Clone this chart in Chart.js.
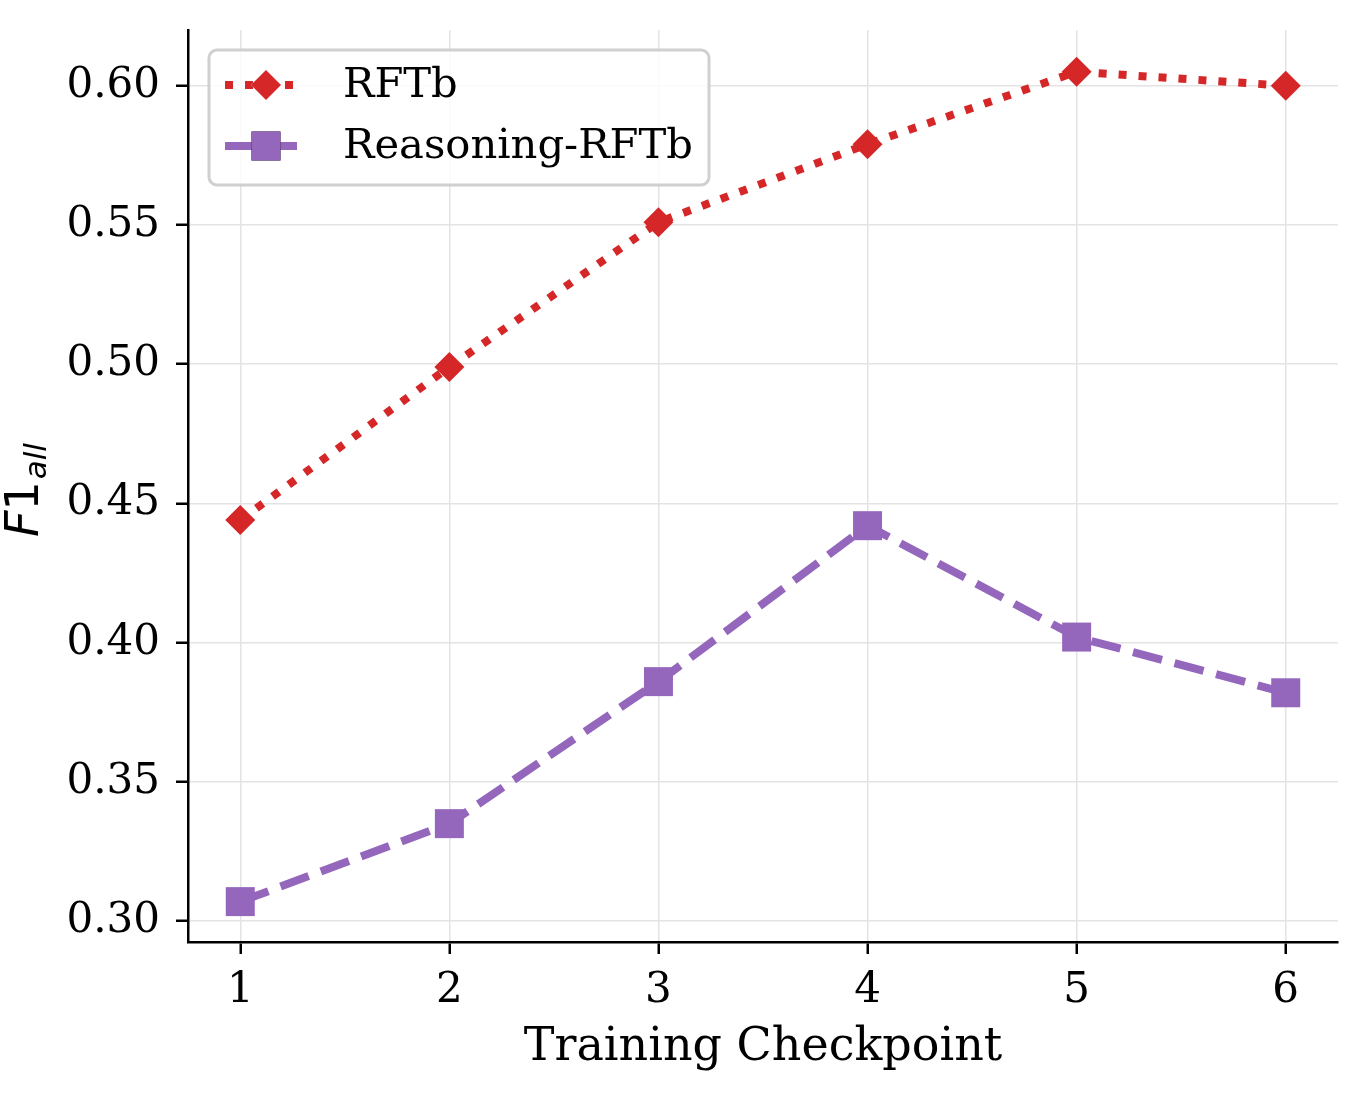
<!DOCTYPE html>
<html lang="en">
<head>
    <meta charset="UTF-8">
    <title>F1 by training checkpoint</title>
    <style>
        body { margin: 0; background: white; }
        #wrap { width: 1367px; height: 1104px; }
    </style>
</head>
<body>
    <div id="wrap"><canvas id="grafico"></canvas></div>

    <script src="https://cdn.jsdelivr.net/npm/chart.js"></script>
    <script>
        // data
        const checkpoints = [1, 2, 3, 4, 5, 6];
        const rftb = [0.444, 0.499, 0.551, 0.579, 0.605, 0.600];
        const reasoningRftb = [0.307, 0.335, 0.386, 0.442, 0.402, 0.382];
        const yTicks = [0.30, 0.35, 0.40, 0.45, 0.50, 0.55, 0.60];

        const serif = "'DejaVu Serif', serif";
        const red = '#d62728';
        const purple = '#9467bd';

        function pts(vals) {
            return checkpoints.map((c, i) => ({ x: c, y: vals[i] }));
        }

        // legend box inside the plot + the mathtext-like y title
        const extras = {
            id: 'extras',
            afterDraw(chart) {
                const ctx = chart.ctx;
                // y title: F1 with subscript "all"
                ctx.save();
                ctx.translate(38, 490);
                ctx.rotate(-Math.PI / 2);
                ctx.fillStyle = 'black';
                ctx.textBaseline = 'alphabetic';
                ctx.textAlign = 'left';
                ctx.font = "oblique 46px 'DejaVu Sans'";
                const wF = ctx.measureText('F').width;
                ctx.font = "46px 'DejaVu Sans'";
                const w1 = ctx.measureText('1').width;
                ctx.font = "oblique 31px 'DejaVu Sans'";
                const wA = ctx.measureText('all').width;
                let x0 = -(wF + w1 + wA + 2) / 2;
                ctx.font = "oblique 46px 'DejaVu Sans'";
                ctx.fillText('F', x0, 0);
                ctx.font = "46px 'DejaVu Sans'";
                ctx.fillText('1', x0 + wF, 0);
                ctx.font = "oblique 31px 'DejaVu Sans'";
                ctx.fillText('all', x0 + wF + w1 + 2, 8);
                ctx.restore();

                // legend
                const bx = 209, by = 50, bw = 500, bh = 135;
                ctx.save();
                ctx.fillStyle = 'rgba(255,255,255,0.85)';
                ctx.strokeStyle = '#d0d0d0';
                ctx.lineWidth = 3;
                ctx.beginPath();
                ctx.roundRect(bx, by, bw, bh, 8);
                ctx.fill();
                ctx.stroke();

                const rows = [85, 146];
                chart.data.datasets.forEach((ds, i) => {
                    const y = rows[i];
                    ctx.strokeStyle = ds.borderColor;
                    ctx.lineWidth = ds.borderWidth;
                    ctx.setLineDash(ds.borderDash);
                    ctx.beginPath();
                    ctx.moveTo(225, y);
                    ctx.lineTo(297, y);
                    ctx.stroke();
                    ctx.setLineDash([]);
                    Chart.helpers.drawPoint(ctx, {
                        pointStyle: ds.pointStyle,
                        radius: ds.pointRadius,
                        borderWidth: 0
                    }, 266, y);
                    ctx.fillStyle = ds.pointBackgroundColor;
                    ctx.fill();
                    ctx.fillStyle = 'black';
                    ctx.font = '41.7px ' + serif;
                    ctx.textAlign = 'left';
                    ctx.textBaseline = 'middle';
                    ctx.fillText(ds.label, 343, y + 1);
                });
                ctx.restore();
            }
        };

        new Chart(document.getElementById('grafico'), {
            type: 'line',
            data: {
                datasets: [
                    {
                        label: 'RFTb',
                        data: pts(rftb),
                        borderColor: red,
                        borderWidth: 8,
                        borderDash: [8, 12],
                        borderCapStyle: 'butt',
                        pointStyle: 'rectRot',
                        pointRadius: 15,
                        pointBackgroundColor: red,
                        pointBorderWidth: 0
                    },
                    {
                        label: 'Reasoning-RFTb',
                        data: pts(reasoningRftb),
                        borderColor: purple,
                        borderWidth: 8,
                        borderDash: [30, 13],
                        borderCapStyle: 'butt',
                        pointStyle: 'rect',
                        pointRadius: 20.5,
                        pointBackgroundColor: purple,
                        pointBorderWidth: 0
                    }
                ]
            },
            options: {
                responsive: true,
                maintainAspectRatio: false,
                animation: false,
                layout: { padding: { top: 30, right: 29, left: 0, bottom: 0 } },
                plugins: { legend: { display: false }, tooltip: { enabled: false } },
                scales: {
                    x: {
                        type: 'linear',
                        min: 0.75,
                        max: 6.25,
                        afterBuildTicks: s => { s.ticks = checkpoints.map(v => ({ value: v })); },
                        afterFit: s => { s.height = 162; s.paddingLeft = 0; s.paddingRight = 0; },
                        grid: { color: '#e3e3e3', lineWidth: 1.5, tickColor: 'black', tickLength: 12, tickWidth: 2.5 },
                        border: { color: 'black', width: 2.5 },
                        ticks: { color: 'black', font: { family: serif, size: 42 }, padding: 12, maxRotation: 0 },
                        title: {
                            display: true,
                            text: 'Training Checkpoint',
                            color: 'black',
                            font: { family: serif, size: 46 },
                            padding: { top: 0, bottom: 28 }
                        }
                    },
                    y: {
                        min: 0.2925,
                        max: 0.62,
                        afterBuildTicks: s => { s.ticks = yTicks.map(v => ({ value: v })); },
                        afterFit: s => { s.width = 188; s.paddingTop = 0; s.paddingBottom = 0; },
                        grid: { color: '#e3e3e3', lineWidth: 1.5, tickColor: 'black', tickLength: 12, tickWidth: 2.5 },
                        border: { color: 'black', width: 2.5 },
                        ticks: {
                            color: 'black',
                            font: { family: serif, size: 42 },
                            padding: 16,
                            callback: v => v.toFixed(2)
                        }
                    }
                }
            },
            plugins: [extras]
        });
    </script>
</body>
</html>
